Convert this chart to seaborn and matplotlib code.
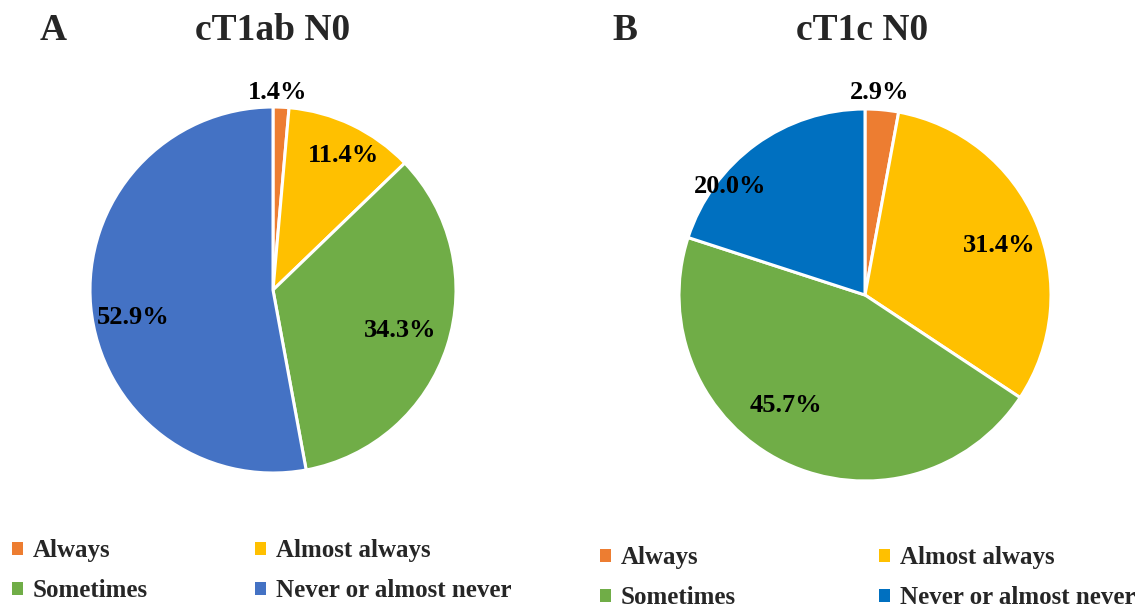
import numpy as np
import matplotlib
matplotlib.use("Agg")
import matplotlib.pyplot as plt
import seaborn as sns
from matplotlib.patches import Patch

# Survey answers, percentage of patients per group
categories = ["Always", "Almost always", "Sometimes", "Never or almost never"]
values_t1ab = [1.4, 11.4, 34.3, 52.9]
values_t1c = [2.9, 31.4, 45.7, 20.0]
panel_letters = ["A", "B"]
panel_titles = ["cT1ab N0", "cT1c N0"]

colors_t1ab = ["#ED7D31", "#FFC000", "#70AD47", "#4472C4"]
colors_t1c = ["#ED7D31", "#FFC000", "#70AD47", "#0070C0"]

sns.set_theme(style="white")
plt.rcParams["font.family"] = ["Liberation Serif", "DejaVu Serif"]
plt.rcParams["font.weight"] = "bold"

W, H = 1146, 609
fig = plt.figure(figsize=(W / 100, H / 100), dpi=100)
fig.patch.set_facecolor("white")


def pie_axes(cx, cy, r):
    return fig.add_axes([(cx - r) / W, (H - cy - r) / H, 2 * r / W, 2 * r / H])


def draw_pie(ax, values, colors, label_r, label_da):
    wedges, _ = ax.pie(values, colors=colors, startangle=90, counterclock=False,
                       wedgeprops=dict(edgecolor="white", linewidth=2.2))
    ax.set_xlim(-1, 1)
    ax.set_ylim(-1, 1)
    ax.set_aspect("equal")
    ax.axis("off")
    for w, v, r, da in zip(wedges, values, label_r, label_da):
        ang = np.deg2rad((w.theta1 + w.theta2) / 2 + da)
        ax.text(r * np.cos(ang), r * np.sin(ang), f"{v:.1f}%",
                ha="center", va="center", fontsize=19, fontweight="bold",
                color="black", clip_on=False)


ax1 = pie_axes(273, 290, 183)
draw_pie(ax1, values_t1ab, colors_t1ab,
         label_r=[1.08, 0.83, 0.73, 0.78], label_da=[1.1, -2, 0, 6])

ax2 = pie_axes(865, 295, 186)
draw_pie(ax2, values_t1c, colors_t1c,
         label_r=[1.09, 0.77, 0.73, 0.93], label_da=[1, -3, -10, 15])

# Panel letters and titles
for letter, title, lx, tx in zip(panel_letters, panel_titles, [53, 625], [273, 862]):
    fig.text(lx / W, 1 - 30 / H, letter, ha="center", va="center",
             fontsize=27, fontweight="bold")
    fig.text(tx / W, 1 - 30 / H, title, ha="center", va="center",
             fontsize=27, fontweight="bold")


def add_legend(colors, x, y, colspace):
    handles = [Patch(facecolor=c, edgecolor="none") for c in colors]
    order = [0, 2, 1, 3]
    fig.legend([handles[i] for i in order], [categories[i] for i in order],
               loc="upper left", bbox_to_anchor=(x / W, 1 - y / H),
               ncol=2, frameon=False,
               prop=dict(weight="bold", size=18),
               handlelength=0.42, handleheight=0.42, handletextpad=0.4,
               columnspacing=colspace, labelspacing=0.68,
               borderaxespad=0, borderpad=0)


add_legend(colors_t1ab, 12, 539, 4.3)
add_legend(colors_t1c, 600, 546, 5.75)

fig.savefig("out.png", dpi=100, facecolor="white")
